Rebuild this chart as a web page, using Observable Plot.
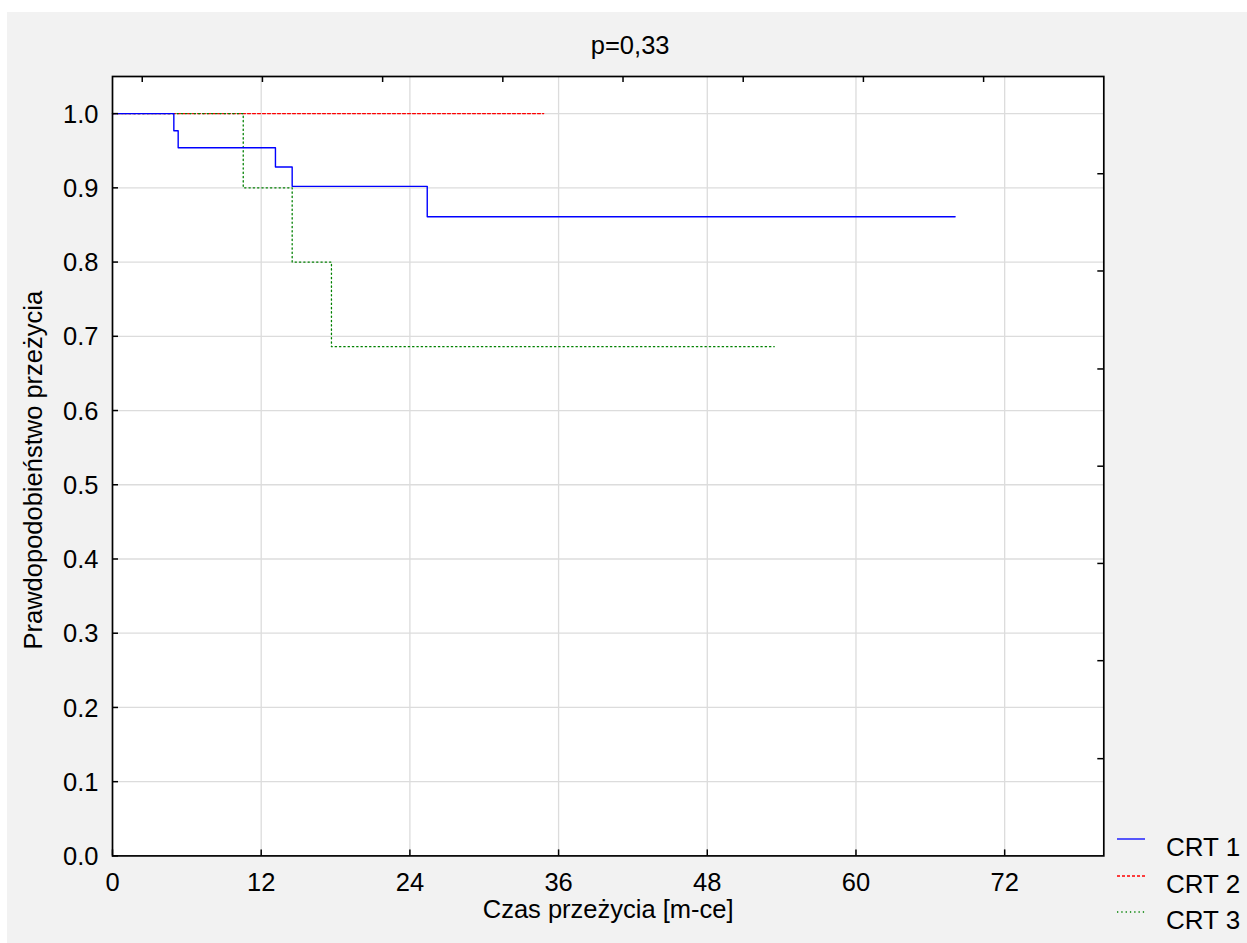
<!DOCTYPE html>
<html>
<head>
<meta charset="utf-8">
<script src="https://cdn.jsdelivr.net/npm/d3@7"></script>
<script src="https://cdn.jsdelivr.net/npm/@observablehq/plot@0.6"></script>
<style>
  html, body { margin: 0; padding: 0; background: #ffffff; }
  #wrap { position: relative; width: 1247px; height: 943px; overflow: hidden; }
  #chart { position: absolute; left: 7px; top: 12px; }
  .leg { position: absolute; font-family: "Liberation Sans", Arial, sans-serif; font-size: 26px; line-height: 1; color: #000; white-space: nowrap; }
</style>
</head>
<body>
<div id="wrap">
  <div id="chart"></div>
  <div id="legend"></div>
</div>
<script>
// ---- data ----
const title = "p=0,33";
const xLabel = "Czas przeżycia [m-ce]";
const yLabel = "Prawdopodobieństwo przeżycia";
const seriesNames = ["CRT 1", "CRT 2", "CRT 3"];
const seriesColors = ["#0000ff", "#ff0000", "#008000"];
const seriesDash = [null, "3,2", "1.3,3"];

const xTicks = [0, 12, 24, 36, 48, 60, 72];
const yTicks = [0.0, 0.1, 0.2, 0.3, 0.4, 0.5, 0.6, 0.7, 0.8, 0.9, 1.0];
const topTicks = [2.4, 12.1, 21.8, 31.5, 41.2, 50.9, 60.6, 70.3];
const rightTicks = [0.131, 0.263, 0.394, 0.525, 0.656, 0.788, 0.919];

const crt1Time = [0, 4.95, 5.3, 13.15, 14.5, 25.4, 68.0];
const crt1Surv = [1.0, 0.977, 0.954, 0.928, 0.902, 0.861, 0.861];
const crt2Time = [0, 34.8];
const crt2Surv = [1.0, 1.0];
const crt3Time = [0, 10.55, 14.5, 17.67, 53.4];
const crt3Surv = [1.0, 0.9, 0.8, 0.686, 0.686];

// ---- build ----
const toRows = (name, t, s) => t.map((time, i) => ({series: name, time, surv: s[i]}));
const rows1 = toRows(seriesNames[0], crt1Time, crt1Surv);
const rows2 = toRows(seriesNames[1], crt2Time, crt2Surv);
const rows3 = toRows(seriesNames[2], crt3Time, crt3Surv);

const W = 1240, H = 931;
const mL = 105, mR = 143.7, mT = 64, mB = 87.6;
const innerW = W - mL - mR, innerH = H - mT - mB;
const font = "'Liberation Sans', Arial, sans-serif";
const fs = 25.5;
const grid = "#dcdcdc";

const chart = Plot.plot({
  width: W,
  height: H,
  marginLeft: mL, marginRight: mR, marginTop: mT, marginBottom: mB,
  style: {background: "#f2f2f2", fontFamily: font, overflow: "visible"},
  x: {domain: [0, 80], axis: null},
  y: {domain: [0, 1.05], axis: null},
  marks: [
    Plot.frame({fill: "white"}),
    Plot.ruleX(xTicks.filter(d => d > 0), {x: d => d, stroke: grid, strokeWidth: 1.3}),
    Plot.ruleY(yTicks.filter(d => d > 0), {y: d => d, stroke: grid, strokeWidth: 1.3}),
    Plot.line(rows2, {x: "time", y: "surv", curve: "step-after", stroke: seriesColors[1], strokeWidth: 1.3, strokeDasharray: seriesDash[1]}),
    Plot.line(rows3, {x: "time", y: "surv", curve: "step-after", stroke: seriesColors[2], strokeWidth: 1.3, strokeDasharray: seriesDash[2]}),
    Plot.line(rows1, {x: "time", y: "surv", curve: "step-after", stroke: seriesColors[0], strokeWidth: 1.4}),
    Plot.frame({stroke: "black", strokeWidth: 1.7}),
    Plot.tickX(xTicks, {x: d => d, insetTop: innerH - 6, stroke: "black", strokeWidth: 1.5}),
    Plot.tickX(topTicks, {x: d => d, insetBottom: innerH - 6, stroke: "black", strokeWidth: 1.5}),
    Plot.tickY(yTicks, {y: d => d, insetRight: innerW - 6, stroke: "black", strokeWidth: 1.5}),
    Plot.tickY(rightTicks, {y: d => d, insetLeft: innerW - 6, stroke: "black", strokeWidth: 1.5}),
    Plot.text(xTicks, {x: d => d, frameAnchor: "bottom", lineAnchor: "middle", textAnchor: "middle", dy: 27, text: d => String(d), fontSize: fs, fill: "black"}),
    Plot.text(yTicks, {y: d => d, frameAnchor: "left", lineAnchor: "middle", textAnchor: "end", dx: -14, dy: 1, text: d => d.toFixed(1), fontSize: fs, fill: "black"}),
    Plot.text([title], {frameAnchor: "top", lineAnchor: "middle", textAnchor: "middle", dx: 22, dy: -31, text: d => d, fontSize: fs, fill: "black"}),
    Plot.text([xLabel], {frameAnchor: "bottom", lineAnchor: "middle", textAnchor: "middle", dy: 54, text: d => d, fontSize: fs, fill: "black"}),
    Plot.text([yLabel], {frameAnchor: "left", lineAnchor: "middle", textAnchor: "middle", dx: -79, dy: 4, rotate: -90, text: d => d, fontSize: fs, fill: "black"})
  ]
});
document.getElementById("chart").appendChild(chart);

// ---- legend ----
const legend = document.getElementById("legend");
const legLineY = [839, 876, 912.3];
const legTextC = [847, 884, 920];
seriesNames.forEach((name, i) => {
  const ns = "http://www.w3.org/2000/svg";
  const svg = document.createElementNS(ns, "svg");
  svg.setAttribute("width", 30);
  svg.setAttribute("height", 6);
  svg.style.position = "absolute";
  svg.style.left = "1116px";
  svg.style.top = (legLineY[i] - 3) + "px";
  const ln = document.createElementNS(ns, "line");
  ln.setAttribute("x1", 1); ln.setAttribute("x2", 29);
  ln.setAttribute("y1", 3); ln.setAttribute("y2", 3);
  ln.setAttribute("stroke", seriesColors[i]);
  ln.setAttribute("stroke-width", 1.3);
  if (seriesDash[i]) ln.setAttribute("stroke-dasharray", seriesDash[i]);
  svg.appendChild(ln);
  legend.appendChild(svg);
  const t = document.createElement("div");
  t.className = "leg";
  t.textContent = name;
  t.style.left = "1166px";
  t.style.top = (legTextC[i] - 12.7) + "px";
  legend.appendChild(t);
});
</script>
</body>
</html>
